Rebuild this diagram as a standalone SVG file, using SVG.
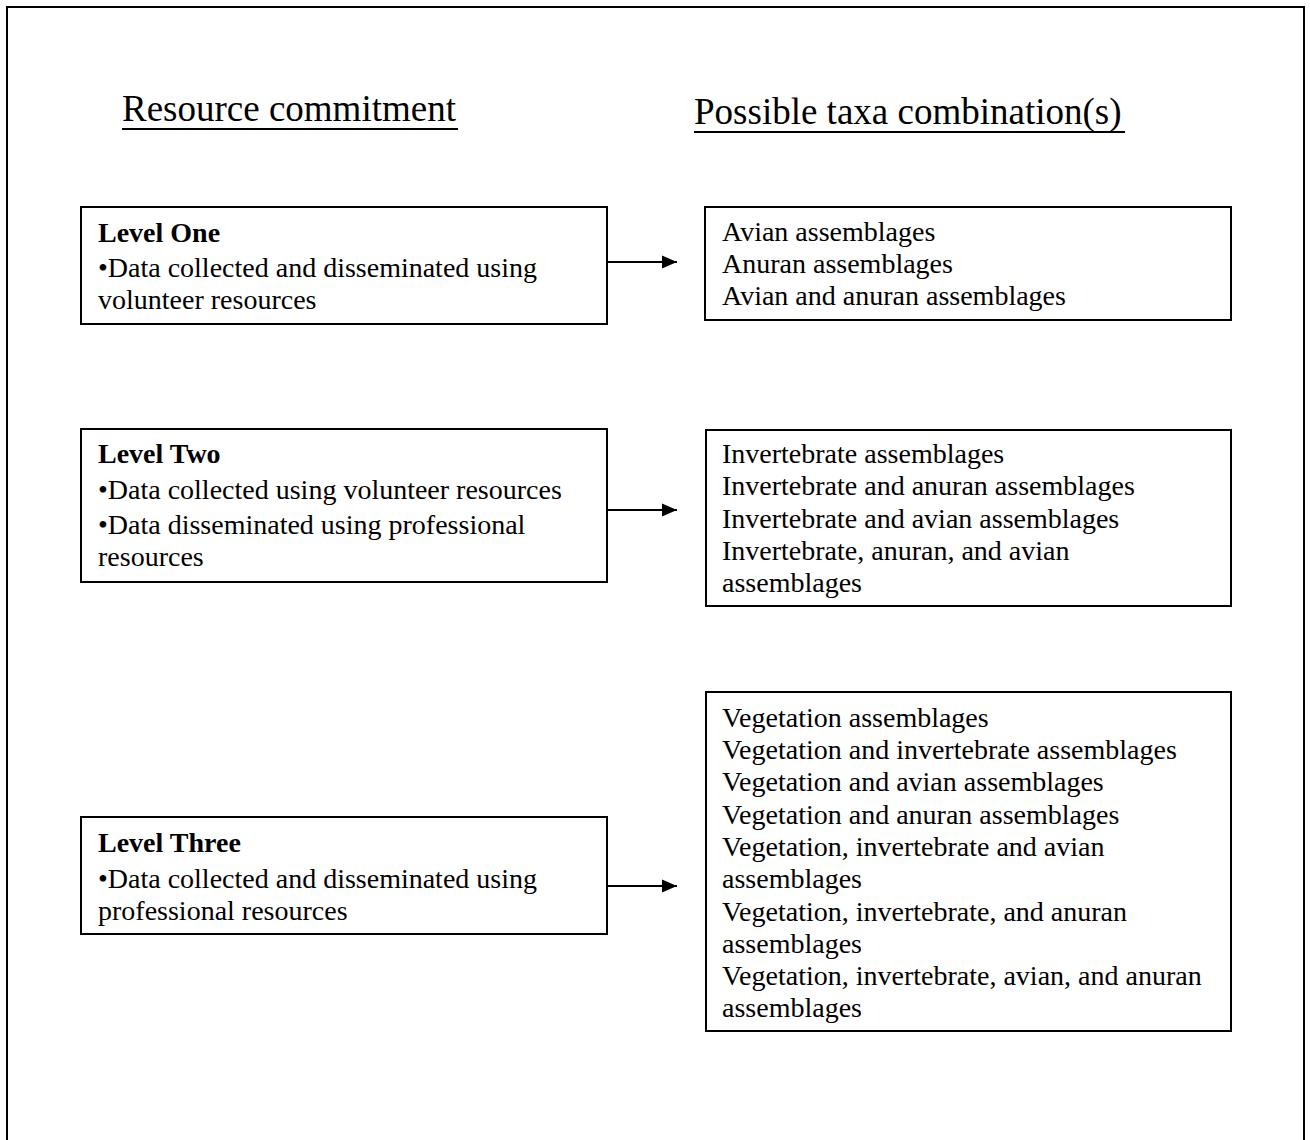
<svg xmlns="http://www.w3.org/2000/svg" width="1310" height="1140" viewBox="0 0 1310 1140">
<style>
  text { font-family: "Liberation Serif", "Times New Roman", serif; fill: #000; }
  .t { font-size: 28px; }
  .b { font-size: 28px; font-weight: bold; }
  .h { font-size: 37px; }
  .box { fill: #fff; stroke: #000; stroke-width: 2; }
  .conn { stroke: #000; stroke-width: 2; fill: none; }
  .ul { stroke: #000; stroke-width: 2; }
</style>
<defs>
  <marker id="arrow" markerWidth="16" markerHeight="14" refX="15" refY="7" orient="auto" markerUnits="userSpaceOnUse">
    <path d="M0,0.5 L15,7 L0,13.5 Z" fill="#000"/>
  </marker>
</defs>
<rect width="1310" height="1140" fill="#fff"/>
<rect x="7" y="7" width="1297" height="1150" fill="none" stroke="#000" stroke-width="2"/>

<g id="headings">
  <text class="h" x="122" y="121">Resource commitment</text>
  <line class="ul" x1="122" y1="129" x2="458" y2="129"/>
  <text class="h" x="694" y="124">Possible taxa combination(s)</text>
  <line class="ul" x1="694" y1="132" x2="1125" y2="132"/>
</g>

<g id="level-one">
  <rect class="box" x="81" y="207" width="526" height="117"/>
  <text class="b" x="98" y="242">Level One</text>
  <text class="t" x="98" y="277">•Data collected and disseminated using</text>
  <text class="t" x="98" y="309">volunteer resources</text>
</g>

<g id="taxa-one">
  <rect class="box" x="705" y="207" width="526" height="113"/>
  <text class="t" x="722" y="241">Avian assemblages</text>
  <text class="t" x="722" y="273">Anuran assemblages</text>
  <text class="t" x="722" y="305">Avian and anuran assemblages</text>
</g>

<g id="level-two">
  <rect class="box" x="81" y="429" width="526" height="153"/>
  <text class="b" x="98" y="463">Level Two</text>
  <text class="t" x="98" y="499">•Data collected using volunteer resources</text>
  <text class="t" x="98" y="534">•Data disseminated using professional</text>
  <text class="t" x="98" y="566">resources</text>
</g>

<g id="taxa-two">
  <rect class="box" x="706" y="430" width="525" height="176"/>
  <text class="t" x="722" y="463">Invertebrate assemblages</text>
  <text class="t" x="722" y="495">Invertebrate and anuran assemblages</text>
  <text class="t" x="722" y="528">Invertebrate and avian assemblages</text>
  <text class="t" x="722" y="560">Invertebrate, anuran, and avian</text>
  <text class="t" x="722" y="592">assemblages</text>
</g>

<g id="level-three">
  <rect class="box" x="81" y="817" width="526" height="117"/>
  <text class="b" x="98" y="852">Level Three</text>
  <text class="t" x="98" y="888">•Data collected and disseminated using</text>
  <text class="t" x="98" y="920">professional resources</text>
</g>

<g id="taxa-three">
  <rect class="box" x="706" y="692" width="525" height="339"/>
  <text class="t" x="722" y="727">Vegetation assemblages</text>
  <text class="t" x="722" y="759">Vegetation and invertebrate assemblages</text>
  <text class="t" x="722" y="791">Vegetation and avian assemblages</text>
  <text class="t" x="722" y="824">Vegetation and anuran assemblages</text>
  <text class="t" x="722" y="856">Vegetation, invertebrate and avian</text>
  <text class="t" x="722" y="888">assemblages</text>
  <text class="t" x="722" y="921">Vegetation, invertebrate, and anuran</text>
  <text class="t" x="722" y="953">assemblages</text>
  <text class="t" x="722" y="985">Vegetation, invertebrate, avian, and anuran</text>
  <text class="t" x="722" y="1017">assemblages</text>
</g>

<g id="connectors">
  <line class="conn" x1="608" y1="262" x2="677" y2="262" marker-end="url(#arrow)"/>
  <line class="conn" x1="608" y1="510" x2="677" y2="510" marker-end="url(#arrow)"/>
  <line class="conn" x1="608" y1="886" x2="677" y2="886" marker-end="url(#arrow)"/>
</g>
</svg>
